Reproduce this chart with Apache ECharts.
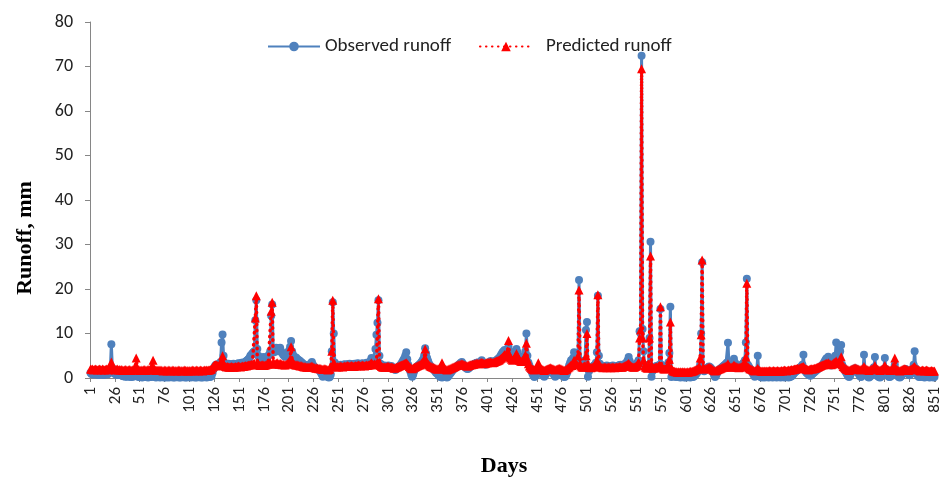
<!DOCTYPE html>
<html>
<head>
<meta charset="utf-8">
<script src="https://cdn.jsdelivr.net/npm/echarts@6/dist/echarts.min.js"></script>
<style>html,body{margin:0;padding:0;background:#fff}#c{width:943px;height:480px}</style>
</head>
<body>
<div id="c"></div>
<script>
// Observed runoff (mm), days 1..851
const obs001 = [1.2,0.9,1.0,0.8,1.1,0.9,0.8,1.0,0.7,0.9,
0.8,1.0,0.9,0.7,0.8,1.1,0.9,0.8,1.0,1.4,
2.0,7.6,2.2,1.3,1.0,0.9,0.8,0.7,0.9,0.8,
0.7,0.6,0.5,0.4,0.5,0.3,0.4,0.3,0.5,0.4,
0.3,0.2,0.4,0.3,0.5,0.6,0.9,0.5,0.3,0.2,
0.3,0.2,0.1,0.3,0.2,0.4,0.3,0.2,0.1,0.2,
0.3,0.2,0.4,0.7,0.3,0.2,0.1,0.2,0.3,0.2,
0.1,0.2,0.3,0.2,0.1,0.2,0.1,0.3,0.2,0.1,
0.2,0.3,0.2,0.1,0.2,0.1,0.2,0.3,0.2,0.1,
0.2,0.1,0.2,0.3,0.2,0.1,0.2,0.1,0.2,0.3];
const obs101 = [0.2,0.1,0.2,0.3,0.2,0.1,0.2,0.1,0.2,0.3,
0.2,0.1,0.2,0.1,0.2,0.3,0.2,0.1,0.2,0.3,
0.2,0.3,0.5,1.2,2.0,2.6,2.9,3.0,3.1,2.9,
3.2,3.6,8.0,9.8,5.0,3.4,3.1,2.9,3.0,3.2,
3.0,2.9,3.1,3.0,3.2,3.1,2.9,3.0,3.2,3.3,
3.1,3.2,3.4,3.3,3.5,3.4,3.6,3.8,4.0,4.2,
4.5,5.0,5.2,5.5,5.8,6.0,13.0,17.5,6.5,5.0,
4.6,4.4,4.2,4.5,4.7,4.4,4.3,4.6,4.8,5.0,
5.2,6.0,14.0,16.5,6.5,5.8,6.2,6.8,6.5,6.0,
6.3,6.8,6.0,5.6,5.2,5.0,4.8,5.0,5.3,5.8];
const obs201 = [6.2,7.0,8.3,6.0,5.2,4.8,4.5,4.6,4.3,4.1,
4.0,3.8,3.6,3.4,3.2,3.0,2.9,2.8,2.7,2.6,
2.8,3.0,3.3,3.6,3.0,2.6,2.4,2.2,2.1,2.0,
1.8,1.6,1.2,0.8,0.3,0.6,1.0,0.8,0.4,0.2,
0.1,0.2,0.8,6.0,17.0,10.0,3.5,2.8,2.6,2.7,
2.8,2.9,3.0,2.8,2.9,3.0,3.1,2.9,3.0,3.1,
3.0,3.2,3.1,3.0,2.9,3.1,3.2,3.0,3.1,3.3,
3.2,3.1,3.0,3.2,3.3,3.1,3.0,3.2,3.4,3.3,
3.2,3.5,3.9,4.5,3.8,3.5,4.0,6.5,9.7,12.4,
17.5,5.0,3.2,2.9,2.7,2.6,2.8,2.5,2.6,2.7];
const obs301 = [2.8,2.6,2.5,2.7,2.4,2.2,2.0,1.8,2.0,2.2,
2.4,2.6,2.9,3.2,3.6,4.0,4.4,5.0,5.8,4.2,
3.0,2.2,1.5,0.8,0.3,0.8,1.5,2.0,2.4,2.6,
2.8,3.0,3.2,3.5,3.8,4.2,5.0,6.7,5.5,4.5,
3.8,3.2,2.8,2.5,2.3,2.0,1.8,1.5,1.2,1.0,
0.8,0.5,0.3,0.2,0.1,0.3,0.5,0.4,0.2,0.1,
0.3,0.6,0.9,1.2,1.5,1.8,2.0,2.2,2.4,2.6,
2.8,3.0,3.2,3.4,3.6,3.2,2.8,2.5,2.3,2.1,
2.0,2.2,2.4,2.6,2.8,3.0,3.1,3.2,3.3,3.4,
3.5,3.4,3.3,3.5,4.0,3.6,3.3,3.1,3.0,3.2];
const obs401 = [3.3,3.4,3.6,3.8,3.6,3.4,3.5,3.7,3.9,4.0,
4.2,4.4,4.6,5.0,5.4,5.8,6.0,6.3,5.5,5.0,
6.3,7.0,6.0,5.2,4.8,4.6,5.0,5.4,6.0,6.5,
5.8,5.0,4.5,4.2,4.0,4.3,4.6,5.0,6.0,10.0,
5.0,3.5,2.8,2.2,1.6,1.0,0.5,0.2,0.4,0.8,
1.2,1.5,1.8,1.5,1.2,0.8,0.5,0.3,0.6,1.0,
1.3,1.6,1.8,2.0,1.7,1.4,1.0,0.6,0.3,0.5,
0.8,1.2,1.5,1.3,1.0,0.7,0.4,0.2,0.3,0.6,
1.2,2.0,2.8,3.4,4.0,3.5,4.5,5.8,4.8,4.2,
4.0,5.0,22.0,4.0,3.2,3.0,2.8,3.0,3.5,10.8];
const obs501 = [12.6,0.3,1.5,2.0,2.2,2.4,2.6,2.8,3.0,3.4,
5.8,18.5,5.0,3.2,2.8,2.6,2.5,2.4,2.6,2.7,
2.8,2.6,2.5,2.4,2.6,2.7,2.8,2.6,2.5,2.4,
2.6,2.7,2.8,2.9,3.0,2.8,2.7,2.9,3.1,3.3,
3.5,4.0,4.7,3.8,3.2,2.9,2.7,2.6,2.8,3.0,
3.2,3.5,4.0,10.5,10.0,72.4,11.0,6.0,3.0,2.6,
2.4,2.2,3.0,9.0,30.6,0.3,1.5,2.2,2.5,2.6,
2.7,2.5,2.4,3.0,15.5,3.0,2.4,2.2,2.0,2.2,
2.4,2.8,3.5,5.6,16.0,0.2,0.4,0.6,0.5,0.3,
0.2,0.3,0.4,0.2,0.1,0.2,0.3,0.2,0.1,0.2];
const obs601 = [0.1,0.2,0.3,0.2,0.1,0.2,0.3,0.2,0.4,0.6,
0.9,1.2,1.6,2.0,3.0,10.0,26.0,2.0,1.5,1.8,
2.0,2.2,2.4,2.6,2.4,2.2,1.8,1.2,0.6,0.2,
0.5,1.0,1.5,1.8,2.0,2.2,2.4,2.6,2.8,3.0,
3.2,3.5,7.9,3.0,2.6,2.5,2.8,3.2,4.3,3.5,
3.0,2.8,2.6,2.5,2.6,2.8,3.0,3.2,3.5,4.0,
8.0,22.3,3.0,2.6,2.2,1.8,1.4,1.0,0.6,0.3,
0.5,1.5,5.0,1.2,0.4,0.2,0.1,0.3,0.2,0.1,
0.2,0.3,0.2,0.1,0.2,0.3,0.2,0.1,0.2,0.3,
0.2,0.1,0.2,0.3,0.2,0.1,0.2,0.3,0.2,0.1];
const obs701 = [0.2,0.3,0.2,0.1,0.2,0.3,0.4,0.6,0.9,1.2,
1.4,1.6,1.8,2.0,2.2,2.4,2.6,3.0,5.2,2.0,
1.5,1.2,1.0,0.8,0.6,0.5,0.7,0.9,1.1,1.3,
1.5,1.7,1.9,2.1,2.3,2.5,2.7,2.9,3.2,3.6,
4.0,4.4,3.8,4.8,3.5,3.0,2.8,3.0,3.4,4.0,
5.0,8.0,5.0,3.8,4.5,6.0,7.4,3.0,2.4,2.0,
1.6,1.2,0.8,0.4,0.2,0.5,1.0,1.4,1.8,2.0,
2.2,2.0,1.6,1.2,0.8,0.4,0.2,0.6,1.5,5.2,
1.8,1.2,0.6,0.2,0.1,0.3,0.6,1.0,1.5,2.4,
4.7,1.8,1.0,0.4,0.2,0.1,0.3,0.6,1.2,2.0];
const obs801 = [4.5,2.0,1.2,0.6,0.3,0.2,0.4,0.8,1.2,1.8,
3.0,1.6,1.0,0.5,0.2,0.1,0.3,0.6,1.0,1.4,
1.8,2.0,1.6,1.2,0.8,0.6,0.9,1.3,2.0,3.0,
6.0,2.2,1.2,0.6,0.3,0.2,0.3,0.5,0.4,0.2,
0.1,0.3,0.5,0.4,0.2,0.1,0.3,0.4,0.2,0.1,0.3];

// Predicted runoff (mm), days 1..851
const pred001 = [2.0,1.9,2.0,1.8,1.9,2.0,1.9,1.8,1.9,2.0,
1.9,1.8,2.0,1.9,1.8,1.9,2.0,1.9,1.8,2.0,
2.3,3.6,2.4,2.0,1.9,1.8,1.9,2.0,1.8,1.9,
1.8,1.9,1.8,1.7,1.8,1.9,1.8,1.7,1.8,1.9,
1.8,1.7,1.8,1.9,2.0,2.4,4.5,2.3,1.9,1.8,
1.7,1.8,1.7,1.8,1.9,1.8,1.7,1.8,1.9,1.8,
1.9,2.2,2.6,4.0,2.2,1.8,1.7,1.8,1.7,1.8,
1.7,1.8,1.7,1.6,1.7,1.8,1.7,1.6,1.7,1.8,
1.7,1.6,1.7,1.8,1.7,1.6,1.7,1.6,1.7,1.8,
1.7,1.6,1.7,1.6,1.7,1.8,1.7,1.6,1.7,1.6];
const pred101 = [1.7,1.6,1.7,1.8,1.7,1.6,1.7,1.8,1.7,1.6,
1.7,1.8,1.7,1.6,1.7,1.8,1.7,1.8,1.7,1.8,
1.8,1.9,2.0,2.4,2.7,2.9,3.0,2.9,2.8,2.7,
2.8,3.0,4.0,5.0,3.2,2.8,2.6,2.5,2.6,2.5,
2.4,2.5,2.6,2.5,2.4,2.5,2.6,2.5,2.6,2.7,
2.6,2.5,2.6,2.7,2.6,2.7,2.8,2.7,2.8,2.9,
2.9,3.0,3.1,3.0,3.2,3.3,13.5,18.5,3.4,3.0,
2.9,2.8,2.9,3.0,2.9,2.8,2.9,3.0,3.1,3.2,
3.3,3.5,15.0,17.0,3.5,3.2,3.1,3.3,3.4,3.2,
3.1,3.3,3.2,3.0,3.1,3.0,2.9,3.1,3.2,3.4];
const pred201 = [3.5,4.2,7.0,4.0,3.3,3.1,3.0,2.9,3.0,2.9,
2.8,2.7,2.8,2.7,2.6,2.5,2.6,2.5,2.4,2.5,
2.4,2.5,2.6,2.7,2.5,2.4,2.3,2.2,2.3,2.2,
2.1,2.2,2.1,2.0,1.9,2.0,2.1,2.0,1.9,1.8,
1.9,2.0,2.5,6.0,17.5,3.5,2.8,2.6,2.5,2.6,
2.5,2.6,2.7,2.6,2.5,2.6,2.7,2.6,2.7,2.8,
2.7,2.6,2.7,2.8,2.7,2.6,2.7,2.8,2.7,2.8,
2.9,2.8,2.7,2.8,2.9,2.8,2.7,2.8,2.9,2.8,
2.9,3.0,3.2,3.4,3.1,3.0,3.2,3.0,3.2,3.5,
17.8,3.5,2.8,2.6,2.5,2.4,2.5,2.4,2.5,2.6];
const pred301 = [2.6,2.5,2.4,2.5,2.4,2.3,2.2,2.3,2.4,2.5,
2.6,2.7,2.8,2.9,3.0,3.1,3.2,3.3,3.4,3.2,
2.9,2.6,2.4,2.2,2.1,2.2,2.4,2.5,2.6,2.7,
2.8,2.9,3.0,3.2,3.4,3.6,4.2,6.5,4.0,3.4,
3.1,2.9,2.7,2.6,2.5,2.4,2.3,2.2,2.1,2.0,
2.0,2.1,2.3,2.6,3.4,2.5,2.2,2.0,1.9,1.8,
1.9,2.0,2.1,2.2,2.3,2.4,2.5,2.6,2.7,2.8,
2.9,3.0,3.0,3.1,3.2,3.1,3.0,2.9,2.8,2.7,
2.7,2.8,2.9,3.0,3.0,3.1,3.1,3.2,3.2,3.3,
3.3,3.2,3.3,3.4,3.5,3.4,3.3,3.2,3.3,3.4];
const pred401 = [3.4,3.5,3.5,3.6,3.5,3.4,3.5,3.6,3.7,3.8,
3.9,4.0,4.1,4.3,4.5,4.7,5.0,5.3,4.8,5.0,
6.0,8.4,5.2,4.5,4.2,4.0,4.2,4.5,5.0,5.5,
5.0,4.4,4.0,3.8,3.7,3.9,4.2,4.6,5.2,7.8,
4.2,3.2,2.7,2.4,2.2,2.0,1.9,1.8,1.9,2.0,
2.2,3.4,2.3,2.1,2.0,1.9,1.8,1.7,1.8,1.9,
2.0,2.1,2.2,2.3,2.2,2.1,2.0,1.9,1.8,1.9,
2.0,2.1,2.2,2.1,2.0,1.9,1.8,1.7,1.8,1.9,
2.1,2.3,2.5,2.7,3.0,2.8,3.2,4.0,3.5,3.2,
3.0,5.0,19.8,3.2,2.7,2.5,2.4,2.5,2.8,5.0];
const pred501 = [10.0,3.0,2.5,2.4,2.3,2.4,2.5,2.6,2.8,3.2,
4.0,18.7,3.0,2.6,2.5,2.4,2.3,2.4,2.5,2.4,
2.3,2.4,2.5,2.4,2.3,2.4,2.5,2.4,2.3,2.4,
2.5,2.4,2.5,2.6,2.5,2.4,2.5,2.6,2.7,2.8,
2.9,3.1,3.3,3.0,2.8,2.6,2.5,2.4,2.5,2.6,
2.8,3.0,3.5,9.0,10.8,69.5,9.0,4.0,2.7,2.4,
2.3,2.2,2.8,9.0,27.4,3.0,2.3,2.2,2.3,2.4,
2.5,2.4,2.3,2.8,16.0,2.6,2.3,2.1,2.0,2.1,
2.2,2.5,3.0,4.2,12.6,2.2,1.8,1.6,1.5,1.4,
1.4,1.3,1.4,1.3,1.4,1.3,1.4,1.3,1.4,1.3];
const pred601 = [1.3,1.4,1.3,1.4,1.5,1.4,1.5,1.6,1.7,1.8,
1.9,2.0,2.2,2.6,4.5,9.7,26.5,2.5,2.1,2.0,
2.1,2.2,2.3,2.4,2.3,2.2,2.0,1.8,1.7,1.6,
1.7,1.8,1.9,2.0,2.1,2.2,2.3,2.4,2.5,2.6,
2.7,2.8,3.2,2.7,2.5,2.4,2.5,2.6,2.9,2.7,
2.6,2.5,2.4,2.3,2.4,2.5,2.6,2.8,3.0,3.5,
4.7,21.3,2.6,2.3,2.1,2.0,1.9,1.8,1.7,1.6,
1.7,1.8,2.2,1.8,1.7,1.6,1.5,1.6,1.5,1.6,
1.5,1.6,1.5,1.6,1.7,1.6,1.5,1.6,1.7,1.6,
1.5,1.6,1.7,1.6,1.5,1.6,1.7,1.6,1.7,1.8];
const pred701 = [1.7,1.6,1.7,1.8,1.7,1.8,1.9,1.8,1.9,2.0,
2.0,2.1,2.2,2.1,2.2,2.3,2.4,2.5,2.6,2.3,
2.1,2.0,1.9,1.8,1.9,2.0,2.1,2.0,2.1,2.2,
2.2,2.3,2.4,2.5,2.6,2.7,2.8,2.9,3.0,3.1,
3.2,3.3,3.2,3.4,3.2,3.1,3.0,3.1,3.3,3.5,
3.6,3.8,3.4,3.2,3.5,4.0,4.8,3.0,2.6,2.4,
2.2,2.0,1.9,1.8,1.7,1.8,1.9,2.0,2.1,2.2,
2.3,2.2,2.1,2.0,1.9,1.8,1.9,2.0,2.2,2.6,
2.2,2.0,1.9,1.8,1.7,1.8,1.9,2.0,2.1,2.3,
2.8,2.2,2.0,1.9,1.8,1.7,1.8,1.9,2.1,2.4];
const pred801 = [2.8,2.2,2.0,1.9,1.8,1.7,1.8,1.9,2.0,2.3,
4.5,2.2,1.9,1.8,1.7,1.6,1.7,1.8,1.9,2.0,
2.1,2.0,1.9,1.8,1.7,1.8,1.9,2.0,2.2,2.4,
2.6,2.2,2.0,1.9,1.8,1.7,1.6,1.7,1.8,1.7,
1.6,1.7,1.8,1.7,1.6,1.5,1.6,1.7,1.6,1.5,1.6];

const observed = [].concat(obs001, obs101, obs201, obs301, obs401, obs501, obs601, obs701, obs801);
const predicted = [].concat(pred001, pred101, pred201, pred301, pred401, pred501, pred601, pred701, pred801);

// Categories: day numbers 1..851
const days = [];
for (let d = 1; d <= 851; d++) days.push(String(d));

const yTicks = { min: 0, max: 80, interval: 10 };
const seriesNames = ['Observed runoff', 'Predicted runoff'];
const xTitle = 'Days';
const yTitle = 'Runoff, mm';

const chart = echarts.init(document.getElementById('c'), null, { renderer: 'canvas' });
const labelFont = 'Carlito, Lato, "Open Sans", sans-serif';
const titleFont = '"Liberation Serif", "Times New Roman", serif';
chart.setOption({
  animation: false,
  backgroundColor: '#ffffff',
  grid: { left: 90, right: 6, top: 22, bottom: 102, containLabel: false },
  legend: {
    data: [
      { name: seriesNames[0] },
      { name: seriesNames[1], textStyle: { padding: [0, 0, 0, 9] } }
    ],
    left: 262,
    top: 32,
    itemWidth: 52,
    itemHeight: 12,
    itemGap: 28,
    textStyle: { fontFamily: labelFont, fontSize: 19, color: '#222' }
  },
  graphic: [
    { type: 'text', x: 504, y: 466,
      style: { text: xTitle, font: 'bold 22px ' + titleFont, fill: '#000', align: 'center', verticalAlign: 'middle' } },
    { type: 'text', x: 25, y: 238, rotation: Math.PI / 2,
      style: { text: yTitle, font: 'bold 22px ' + titleFont, fill: '#000', align: 'center', verticalAlign: 'middle' } }
  ],
  xAxis: {
    type: 'category',
    data: days,
    boundaryGap: true,
    axisLine: { lineStyle: { color: '#868686', width: 1 } },
    axisTick: { show: true, interval: 24, length: 4, lineStyle: { color: '#868686' } },
    axisLabel: { interval: 24, rotate: 90, fontFamily: labelFont, fontSize: 17, color: '#222', margin: 9 },
    splitLine: { show: false }
  },
  yAxis: {
    type: 'value',
    min: yTicks.min,
    max: yTicks.max,
    interval: yTicks.interval,
    axisLine: { show: true, lineStyle: { color: '#868686', width: 1 } },
    axisTick: { show: true, length: 5, lineStyle: { color: '#868686' } },
    axisLabel: { fontFamily: labelFont, fontSize: 18, color: '#222', margin: 17 },
    splitLine: { show: false }
  },
  series: [
    {
      name: seriesNames[0],
      type: 'line',
      data: observed,
      showAllSymbol: true,
      symbol: 'circle',
      symbolSize: 8,
      itemStyle: { color: '#4F81BD' },
      lineStyle: { color: '#4F81BD', width: 3 },
      z: 2
    },
    {
      name: seriesNames[1],
      type: 'line',
      data: predicted,
      showAllSymbol: true,
      symbol: 'triangle',
      symbolSize: 9,
      itemStyle: { color: '#FF0000' },
      lineStyle: { color: '#FF0000', width: 3.5, type: [0.5, 5.5], cap: 'round' },
      z: 3
    }
  ]
});
</script>
</body>
</html>
